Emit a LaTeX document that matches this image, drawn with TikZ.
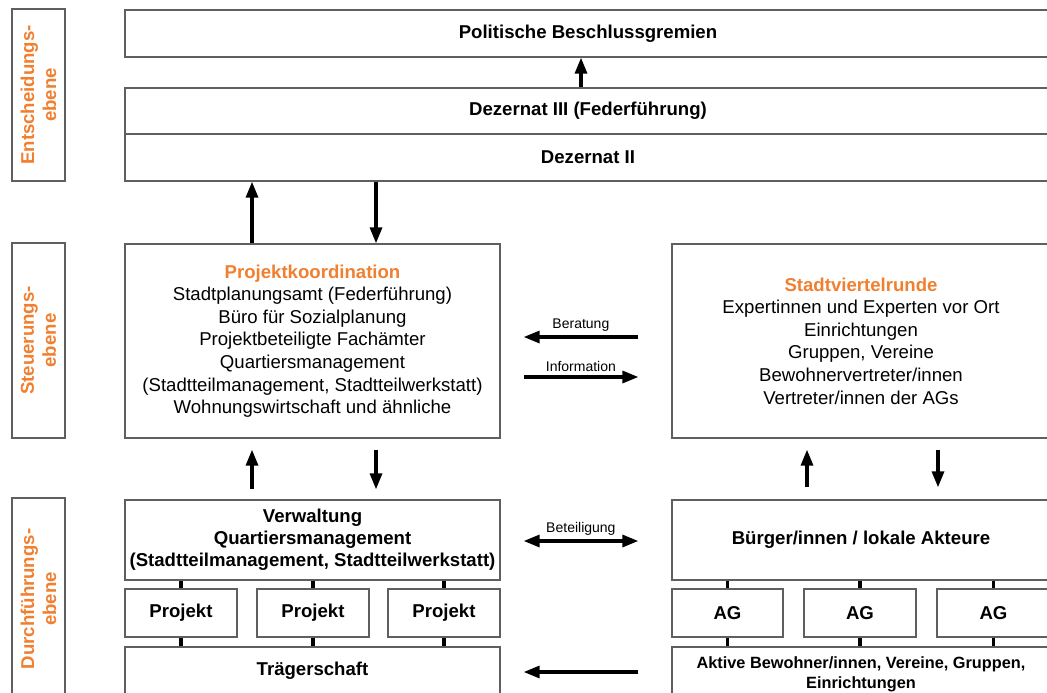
\documentclass[tikz,border=0pt]{standalone}
\usepackage{fontspec}
\setmainfont{Liberation Sans}
\usepackage{tikz}
\usetikzlibrary{calc}
\usetikzlibrary{arrows.meta}
\usetikzlibrary{positioning}
\definecolor{orng}{RGB}{240,128,48}
\definecolor{rahmen}{RGB}{95,95,95}
\tikzset{box/.style={draw=rahmen,line width=1.3pt,fill=white,inner sep=0pt,align=center,font=\fontsize{18.6}{22.6}\selectfont}}
\tikzset{bbox/.style={box,font=\fontsize{18.6}{22}\selectfont\bfseries}}
\tikzset{ebene/.style={box,rotate=90,minimum height=53pt,text=orng,font=\fontsize{18.6}{22}\selectfont\bfseries}}
\tikzset{arr/.style={line width=3.2pt,-{Triangle[length=16pt,width=12pt]}}}
\tikzset{darr/.style={line width=3.2pt,{Triangle[length=16pt,width=12pt]}-{Triangle[length=16pt,width=12pt]}}}
\tikzset{stiel/.style={line width=3.6pt}}
\tikzset{lbl/.style={font=\fontsize{14}{16}\selectfont,inner sep=4pt}}
\begin{document}
\begin{tikzpicture}[x=1pt,y=-1pt]
\useasboundingbox (0,0) rectangle (1047,693);
\clip (0,0) rectangle (1047,693);
% Ebenen
\node (eE) at (38.5,95) [ebene,minimum width=172pt] {Entscheidungs-\\ebene};
\node (eS) at (38.5,340.5) [ebene,minimum width=195pt] {Steuerungs-\\ebene};
\node (eD) at (38.5,599) [ebene,minimum width=202pt] {Durchführungs-\\ebene};

% Entscheidungsebene
\node (pol) at (588,33.5) [bbox,minimum width=926pt,minimum height=47pt] {Politische Beschlussgremien};
\node (dez3) at (588,111) [bbox,minimum width=926pt,minimum height=46pt] {Dezernat III (Federführung)};
\node (dez2) at (588,157.5) [bbox,minimum width=926pt,minimum height=47pt] {Dezernat II};

% Steuerungsebene
\node (koord) at (312.5,341) [box,minimum width=375pt,minimum height=194pt] {\textcolor{orng}{\bfseries Projektkoordination}\\Stadtplanungsamt (Federführung)\\Büro für Sozialplanung\\Projektbeteiligte Fachämter\\Quartiersmanagement\\(Stadtteilmanagement, Stadtteilwerkstatt)\\Wohnungswirtschaft und ähnliche};
\node (svr) at (861,341) [box,minimum width=378pt,minimum height=194pt] {\textcolor{orng}{\bfseries Stadtviertelrunde}\\Expertinnen und Experten vor Ort\\Einrichtungen\\Gruppen, Vereine\\Bewohnervertreter/innen\\Vertreter/innen der AGs};

% Durchfuehrungsebene
\node (verw) at (312.5,540) [bbox,minimum width=375pt,minimum height=80pt] {Verwaltung\\Quartiersmanagement\\(Stadtteilmanagement, Stadtteilwerkstatt)};
\node (buerg) at (861,540) [bbox,minimum width=378pt,minimum height=80pt] {Bürger/innen / lokale Akteure};
\foreach \i/\x in {1/181,2/313,3/444}
{
	\node (P\i) at (\x,613) [bbox,minimum width=112pt,minimum height=48pt] {Projekt};
}
\foreach \i/\x/\w in {1/727.5/111,2/860/112,3/993.5/113}
{
	\node (AG\i) at (\x,613) [bbox,minimum width=\w pt,minimum height=48pt] {AG};
}
\node (traeg) at (312.5,671) [bbox,minimum width=375pt,minimum height=48pt] {Trägerschaft};
\node (aktiv) at (861,674) [bbox,minimum width=378pt,minimum height=54pt,font=\fontsize{16.3}{20}\selectfont\bfseries] {Aktive Bewohner/innen, Vereine, Gruppen,\\Einrichtungen};

\foreach \i in {1,2,3}
{
	\draw[stiel] (verw.south -| P\i) -- (P\i.north);
	\draw[stiel] (P\i.south) -- (traeg.north -| P\i);
	\draw[stiel] (buerg.south -| AG\i) -- (AG\i.north);
	\draw[stiel] (AG\i.south) -- (aktiv.north -| AG\i);
}

% Pfeile
\coordinate (cM) at (581,0);
\coordinate (cL1) at (252,0);
\coordinate (cL2) at (376,0);
\coordinate (cR1) at (807,0);
\coordinate (cR2) at (938,0);
\coordinate (yB) at (0,337);
\coordinate (yI) at (0,377);
\coordinate (yT) at (0,541);
\coordinate (yA) at (0,672);
\draw[arr] (dez3.north -| cM) -- (pol.south -| cM);
\draw[arr] (koord.north -| cL1) -- (dez2.south -| cL1);
\draw[arr] (dez2.south -| cL2) -- (koord.north -| cL2);
\draw[arr,shorten <=10pt,shorten >=11pt] (verw.north -| cL1) -- (koord.south -| cL1);
\draw[arr,shorten <=11pt,shorten >=10pt] (koord.south -| cL2) -- (verw.north -| cL2);
\draw[arr,shorten <=12pt,shorten >=11pt] (buerg.north -| cR1) -- (svr.south -| cR1);
\draw[arr,shorten <=11pt,shorten >=12pt] (svr.south -| cR2) -- (buerg.north -| cR2);
\draw[arr,shorten <=33pt,shorten >=23pt] (svr.west |- yB) -- node[lbl,above,pos=0.53] {Beratung} (koord.east |- yB);
\draw[arr,shorten <=23pt,shorten >=33pt] (koord.east |- yI) -- node[lbl,above,pos=0.47] {Information} (svr.west |- yI);
\draw[darr,shorten <=23pt,shorten >=33pt] (verw.east |- yT) -- node[lbl,above,pos=0.47] {Beteiligung} (buerg.west |- yT);
\draw[arr,shorten <=33pt,shorten >=23pt] (aktiv.west |- yA) -- (traeg.east |- yA);
\end{tikzpicture}
\end{document}
